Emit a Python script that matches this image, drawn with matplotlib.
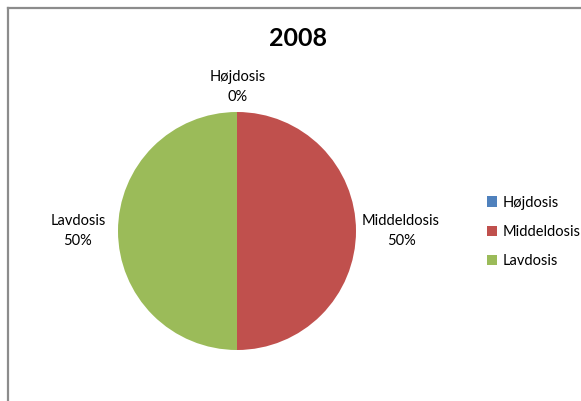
import matplotlib
matplotlib.use("Agg")
import matplotlib.pyplot as plt
from matplotlib.lines import Line2D

plt.rcParams['font.family'] = ['Lato', 'DejaVu Sans']

title = "2008"
categories = ["Højdosis", "Middeldosis", "Lavdosis"]
values = [0, 50, 50]
colors = ["#4F81BD", "#C0504D", "#9BBB59"]

W, H = 581, 401
fig = plt.figure(figsize=(W / 100, H / 100), dpi=100)
ax = fig.add_axes([0, 0, 1, 1])

# frame lines (top and left edges of the chart area)
ax.add_line(Line2D([7.5, W], [H - 7.5, H - 7.5], color="#8c8c8c", lw=1.6))
ax.add_line(Line2D([7.5, 7.5], [0, H - 7.5], color="#8c8c8c", lw=1.6))

cx, cy, r = 237, H - 231, 119
wedges, _ = ax.pie(values, colors=colors, startangle=90, counterclock=False,
                   center=(cx, cy), radius=r, frame=True,
                   wedgeprops=dict(linewidth=0))
ax.set_xlim(0, W)
ax.set_ylim(0, H)
ax.set_aspect('equal')
ax.axis('off')

total = sum(values)
label_pos = [(238, H - 87), (401, H - 231), (78, H - 231)]
for name, v, (x, y) in zip(categories, values, label_pos):
    ax.text(x, y, f"{name}\n{v / total * 100:.0f}%", ha='center', va='center',
            fontsize=10.5, color="#000000", linespacing=1.5)

ax.text(298, H - 38, title, ha='center', va='center', fontsize=18,
        fontweight='bold', color="#000000")

leg = ax.legend(wedges, categories, loc='center left',
                bbox_to_anchor=(487 / W, 1 - 232 / H), frameon=False,
                fontsize=10.5, handlelength=0.7, handleheight=0.7,
                handletextpad=0.35, labelspacing=1.05, borderaxespad=0,
                borderpad=0)

fig.savefig("out.png", dpi=100)
